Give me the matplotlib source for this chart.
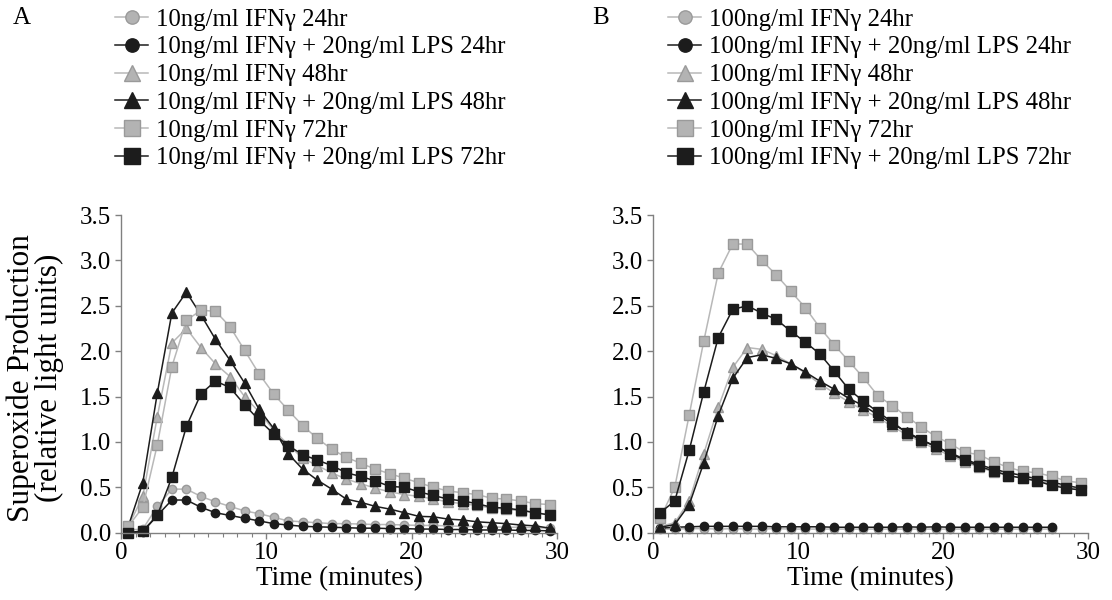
import matplotlib
matplotlib.use("Agg")
import matplotlib.pyplot as plt
from matplotlib.ticker import MultipleLocator

plt.rcParams['font.family'] = ['Liberation Serif', 'DejaVu Serif']

# time points (minutes)
time = [0.5, 1.5, 2.5, 3.5, 4.5, 5.5, 6.5, 7.5, 8.5, 9.5,
        10.5, 11.5, 12.5, 13.5, 14.5, 15.5, 16.5, 17.5, 18.5, 19.5,
        20.5, 21.5, 22.5, 23.5, 24.5, 25.5, 26.5, 27.5, 28.5, 29.5]

# panel A: 10ng/ml IFNy
a_ifn_24 = [0.03, 0.04, 0.29, 0.48, 0.48, 0.40, 0.34, 0.29, 0.24, 0.21,
            0.17, 0.13, 0.12, 0.11, 0.10, 0.10, 0.095, 0.09, 0.09, 0.085,
            0.08, 0.08, 0.075, 0.07, 0.07, 0.065, 0.06, 0.06, 0.055, 0.05]
a_lps_24 = [0.0, 0.01, 0.19, 0.36, 0.36, 0.28, 0.22, 0.19, 0.16, 0.13,
            0.10, 0.085, 0.07, 0.065, 0.06, 0.055, 0.05, 0.05, 0.045, 0.045,
            0.04, 0.04, 0.035, 0.035, 0.03, 0.03, 0.03, 0.025, 0.025, 0.02]
a_ifn_48 = [0.07, 0.40, 1.28, 2.09, 2.25, 2.04, 1.86, 1.72, 1.50, 1.33,
            1.13, 0.97, 0.82, 0.74, 0.66, 0.59, 0.54, 0.49, 0.45, 0.42,
            0.40, 0.37, 0.34, 0.32, 0.30, 0.27, 0.26, 0.24, 0.22, 0.20]
a_lps_48 = [0.07, 0.55, 1.54, 2.42, 2.65, 2.40, 2.13, 1.90, 1.65, 1.36,
            1.15, 0.87, 0.70, 0.58, 0.48, 0.37, 0.335, 0.29, 0.26, 0.22,
            0.18, 0.175, 0.15, 0.14, 0.12, 0.11, 0.10, 0.085, 0.075, 0.05]
a_ifn_72 = [0.07, 0.28, 0.97, 1.83, 2.34, 2.45, 2.44, 2.27, 2.01, 1.75,
            1.53, 1.35, 1.18, 1.04, 0.92, 0.83, 0.765, 0.70, 0.65, 0.60,
            0.55, 0.50, 0.46, 0.44, 0.42, 0.38, 0.37, 0.35, 0.32, 0.31]
a_lps_72 = [0.0, 0.02, 0.19, 0.61, 1.17, 1.53, 1.67, 1.60, 1.41, 1.24,
            1.09, 0.96, 0.86, 0.80, 0.74, 0.66, 0.62, 0.57, 0.51, 0.50,
            0.45, 0.41, 0.37, 0.35, 0.32, 0.28, 0.27, 0.25, 0.22, 0.195]

# panel B: 100ng/ml IFNy (24hr series stop at 27.5 min)
b_ifn_24 = [0.04, 0.04, 0.045, 0.045, 0.04, 0.045, 0.04, 0.04, 0.045, 0.04,
            0.04, 0.04, 0.04, 0.04, 0.04, 0.04, 0.04, 0.04, 0.04, 0.04,
            0.04, 0.04, 0.04, 0.04, 0.04, 0.04, 0.04, 0.04]
b_lps_24 = [0.05, 0.06, 0.065, 0.07, 0.07, 0.07, 0.07, 0.07, 0.065, 0.065,
            0.065, 0.065, 0.06, 0.06, 0.06, 0.06, 0.06, 0.065, 0.06, 0.065,
            0.06, 0.06, 0.06, 0.06, 0.06, 0.06, 0.06, 0.06]
b_ifn_48 = [0.07, 0.11, 0.35, 0.87, 1.38, 1.82, 2.04, 2.02, 1.95, 1.86,
            1.76, 1.64, 1.54, 1.44, 1.35, 1.27, 1.17, 1.08, 1.00, 0.92,
            0.85, 0.78, 0.72, 0.67, 0.63, 0.60, 0.57, 0.54, 0.50, 0.47]
b_lps_48 = [0.06, 0.09, 0.31, 0.77, 1.29, 1.70, 1.93, 1.96, 1.92, 1.86,
            1.77, 1.67, 1.58, 1.48, 1.40, 1.30, 1.20, 1.11, 1.025, 0.95,
            0.88, 0.81, 0.75, 0.70, 0.66, 0.63, 0.59, 0.56, 0.52, 0.49]
b_ifn_72 = [0.16, 0.50, 1.30, 2.11, 2.86, 3.18, 3.18, 3.00, 2.84, 2.66,
            2.48, 2.26, 2.07, 1.89, 1.71, 1.51, 1.40, 1.28, 1.165, 1.06,
            0.98, 0.885, 0.86, 0.78, 0.72, 0.675, 0.66, 0.62, 0.57, 0.55]
b_lps_72 = [0.22, 0.35, 0.91, 1.55, 2.15, 2.46, 2.50, 2.42, 2.35, 2.22,
            2.10, 1.97, 1.78, 1.58, 1.45, 1.33, 1.22, 1.10, 1.02, 0.95,
            0.87, 0.80, 0.73, 0.68, 0.63, 0.60, 0.57, 0.52, 0.49, 0.47]

gray_line = '#b8b8b8'
gray_face = '#b3b3b3'
gray_edge = '#9a9a9a'
black = '#1c1c1c'

styles = [
    ('o', gray_line, gray_face, gray_edge, 6),
    ('o', black, black, black, 6),
    ('^', gray_line, gray_face, gray_edge, 7),
    ('^', black, black, black, 7),
    ('s', gray_line, gray_face, gray_edge, 7),
    ('s', black, black, black, 7),
]

fig = plt.figure(figsize=(11.12, 6), dpi=100)
ax_a = fig.add_axes([121/1112, 67.3/600, 436/1112, 317.7/600])
ax_b = fig.add_axes([653/1112, 67.3/600, 435/1112, 317.7/600])

panels = [
    (ax_a, [a_ifn_24, a_lps_24, a_ifn_48, a_lps_48, a_ifn_72, a_lps_72], '10ng/ml'),
    (ax_b, [b_ifn_24, b_lps_24, b_ifn_48, b_lps_48, b_ifn_72, b_lps_72], '100ng/ml'),
]

for ax, series, dose in panels:
    labels = [dose + ' IFNγ 24hr', dose + ' IFNγ + 20ng/ml LPS 24hr',
              dose + ' IFNγ 48hr', dose + ' IFNγ + 20ng/ml LPS 48hr',
              dose + ' IFNγ 72hr', dose + ' IFNγ + 20ng/ml LPS 72hr']
    for vals, lab, (mk, lc, fc, ec, ms) in zip(series, labels, styles):
        ax.plot(time[:len(vals)], vals, marker=mk, color=lc, markerfacecolor=fc,
                markeredgecolor=ec, markersize=ms, linewidth=1.1,
                label=lab, clip_on=False)
    ax.set_xlim(0, 30)
    ax.set_ylim(0, 3.5)
    ax.xaxis.set_major_locator(MultipleLocator(10))
    ax.xaxis.set_minor_locator(MultipleLocator(1))
    ax.yaxis.set_major_locator(MultipleLocator(0.5))
    ax.yaxis.set_major_formatter(plt.FormatStrFormatter('%.1f'))
    for s in ['top', 'right']:
        ax.spines[s].set_visible(False)
    for s in ['left', 'bottom']:
        ax.spines[s].set_color('#808080')
        ax.spines[s].set_linewidth(1.0)
    ax.tick_params(which='major', direction='out', length=4, width=1,
                   color='#808080', labelsize=18, pad=3)
    ax.tick_params(which='minor', direction='out', length=3, width=0.8,
                   color='#808080')
    ax.set_xlabel('Time (minutes)', fontsize=19.5, labelpad=1)

    handles, labs = ax.get_legend_handles_labels()
    x0 = 0.1034 if ax is ax_a else 0.6007
    fig.legend(handles, labs, loc='upper left', bbox_to_anchor=(x0, 0.986),
               frameon=False, fontsize=17.8, handlelength=1.35,
               handletextpad=0.3, labelspacing=0.22, borderpad=0,
               borderaxespad=0, markerscale=1.6)

fig.text(13/1112, 1 - 18/600, 'A', fontsize=18, va='center', ha='left')
fig.text(592/1112, 1 - 18/600, 'B', fontsize=18, va='center', ha='left')
fig.text(35/1112, 1 - 378/600, 'Superoxide Production\n(relative light units)',
         rotation=90, fontsize=22.5, ha='center', va='center',
         multialignment='center', linespacing=0.95)

plt.savefig('out.png', dpi=100)
